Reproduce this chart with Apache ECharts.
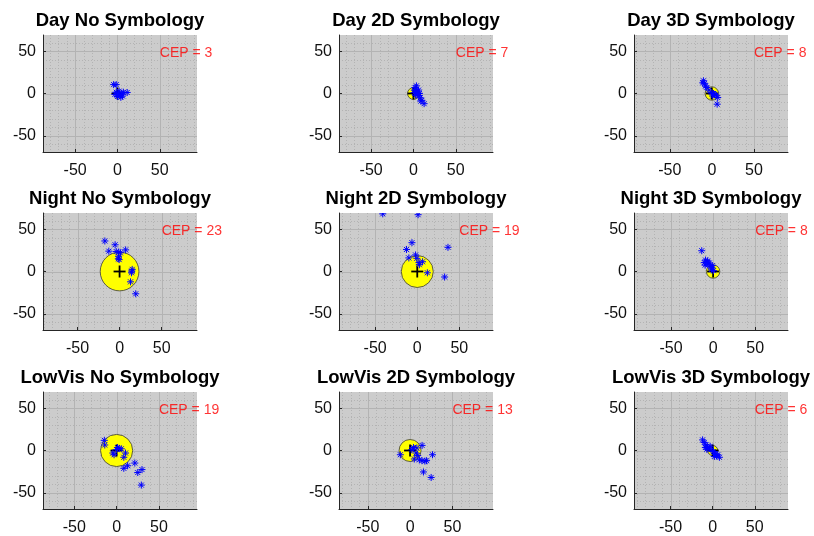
<!DOCTYPE html>
<html>
<head>
<meta charset="utf-8">
<script src="https://cdn.jsdelivr.net/npm/echarts@6/dist/echarts.min.js"></script>
<style>
  html, body { margin: 0; padding: 0; background: #ffffff; }
  #chart { width: 814px; height: 536px; }
</style>
</head>
<body>
<div id="chart"></div>
<script>
// Panel titles, in reading order (rows: Day / Night / LowVis; columns: No / 2D / 3D)
const panelTitles = [
  'Day No Symbology', 'Day 2D Symbology', 'Day 3D Symbology',
  'Night No Symbology', 'Night 2D Symbology', 'Night 3D Symbology',
  'LowVis No Symbology', 'LowVis 2D Symbology', 'LowVis 3D Symbology'
];

// Circular error probable per condition
const cepValues = [3, 7, 8, 23, 19, 8, 19, 13, 6];

// Impact points [x, y] per condition
const dayNoSymbology = [[-4.5,10.5],[-1.5,10.5],[11.5,1.2],[-1.5,1.5],[1,-0.5],[3,-2.5],[5,-0.5],[0,-3.5],[7,1.5],[2,2.8],[4,-4.5],[-3,-1],[6,-3]];
const day2DSymbology = [[2,7],[3.2,4.7],[4,2],[5,0],[6.3,-2.4],[8,-5],[10,-8],[12.6,-12],[6,4],[1,4],[7,0],[2.5,-2],[8.7,-9],[3.5,9],[1,1]];
const day3DSymbology = [[-10,15],[-8.7,12],[-7.5,8.7],[-6,7],[-3.6,4],[-0.8,1.2],[2,0],[5,-2],[7,-4.7],[6.3,-12.6],[3.2,-1.2],[-10.7,12.6],[1,-3]];
const nightNoSymbology = [[-17.5,36],[-5.3,31.5],[-12.8,24],[-4,23.5],[-1,23],[1,22],[7.2,25.5],[-1.2,18],[-1.5,15],[-0.5,14],[15,2.5],[14.2,-1.5],[14.5,0.5],[13,-12.2],[19.2,-26.3]];
const night2DSymbology = [[-41,68],[1,67],[36.5,28.5],[-6.3,34],[-12.8,26],[-10,16],[-2,19.5],[-0.5,15.5],[2,10.5],[6.3,11.5],[2.5,8],[12,-1.5],[32.5,-6.5]];
const night3DSymbology = [[-13.5,24.5],[-9,13.5],[-10.5,10.5],[-6.5,12.5],[-4.5,10],[-9.5,7.5],[-6,8.5],[-2.8,6],[-1,4],[0.5,1],[-2,2],[-1,7],[-7,11]];
const lowVisNoSymbology = [[-14.5,12],[-14,6.5],[-4.5,-3],[-3,-5],[1,3.5],[3,2.5],[5.5,2],[10.5,-3],[8.5,-8],[8.5,-21],[13,-18],[21.5,-14.8],[25,-26],[30,-22.5],[29.2,-40.8],[0,1]];
const lowVis2DSymbology = [[-11.5,-5],[14.2,6],[26.5,-5],[8,3],[7,-3],[5,-10],[11,-11],[14,-12],[17.5,-12.5],[19.5,-12],[15.8,-25.3],[24.9,-31.8],[4,3.5],[9,-6],[2,1]];
const lowVis3DSymbology = [[-12,12.5],[-10,9.5],[-8,6.7],[-6,4],[-8.7,3.6],[-4,2.8],[-2,0.8],[1,-1.2],[3.2,-4],[6,-5],[8,-8],[2,-7],[4.7,-6.3],[-7,1.5],[-3,5]];

const impactSets = [
  dayNoSymbology, day2DSymbology, day3DSymbology,
  nightNoSymbology, night2DSymbology, night3DSymbology,
  lowVisNoSymbology, lowVis2DSymbology, lowVis3DSymbology
];

// Axis limits (equal-aspect axes, so x limits differ slightly per panel)
const xLimits = [
  [-88, 94], [-88, 94], [-92.5, 90.5],
  [-91, 92], [-93, 90], [-94, 89],
  [-87, 95], [-84, 98], [-93.5, 89.5]
];
const yLimits = [-69, 69];
const majorTicks = [-50, 0, 50];
const minorTicks = [-90, -80, -70, -60, -40, -30, -20, -10, 10, 20, 30, 40, 60, 70, 80, 90];
const cepLabelPoint = [50, 48];

// ---- layout & drawing ----
const FONT = '"Liberation Sans", Arial, Helvetica, sans-serif';
const colLeft = [43, 339, 634];
const rowTop = [35, 213, 392];
const plotW = 154, plotH = 117;

const grids = [], xAxes = [], yAxes = [], series = [], titles = [];

function gridLineItems(lims) {
  const items = [];
  const inRange = (v, l) => v > l[0] && v < l[1];
  minorTicks.forEach(v => { if (inRange(v, lims.x)) items.push([v, 0, 0]); });
  minorTicks.forEach(v => { if (inRange(v, lims.y)) items.push([v, 1, 0]); });
  majorTicks.forEach(v => { if (inRange(v, lims.x)) items.push([v, 0, 1]); });
  majorTicks.forEach(v => { if (inRange(v, lims.y)) items.push([v, 1, 1]); });
  return items;
}

for (let i = 0; i < 9; i++) {
  const r = Math.floor(i / 3), c = i % 3;
  const left = colLeft[c], top = rowTop[r];
  const xl = xLimits[i];

  grids.push({
    left: left, top: top, width: plotW, height: plotH,
    show: true, backgroundColor: '#cccccc', borderWidth: 0
  });

  const axisCommon = {
    type: 'value', gridIndex: i, z: 6,
    axisLine: { show: true, onZero: false, lineStyle: { color: '#262626', width: 1 } },
    axisTick: { show: true, inside: true, length: 3, customValues: majorTicks, lineStyle: { color: '#262626', width: 1 } },
    splitLine: { show: false },
    minorTick: { show: false },
    minorSplitLine: { show: false }
  };
  xAxes.push(Object.assign({}, axisCommon, {
    min: xl[0], max: xl[1],
    axisLabel: {
      customValues: majorTicks, color: '#111111', fontSize: 16, fontFamily: FONT, margin: 11,
      formatter: v => (majorTicks.indexOf(v) >= 0 ? String(v) : '')
    }
  }));
  yAxes.push(Object.assign({}, axisCommon, {
    min: yLimits[0], max: yLimits[1],
    axisLabel: {
      customValues: majorTicks, color: '#111111', fontSize: 16, fontFamily: FONT, margin: 7,
      formatter: v => (majorTicks.indexOf(v) >= 0 ? String(v) : '')
    }
  }));

  titles.push({
    text: panelTitles[i],
    left: left + plotW / 2, top: top - 23.5,
    textAlign: 'center', padding: 0,
    textStyle: { fontSize: 18.5, fontWeight: 'bold', color: '#000000', fontFamily: FONT }
  });

  // major (solid) and minor (dotted) grid lines
  series.push({
    type: 'custom', xAxisIndex: i, yAxisIndex: i, z: 1, silent: true, clip: true,
    data: gridLineItems({ x: xl, y: yLimits }),
    renderItem: function (params, api) {
      const v = api.value(0), dir = api.value(1), major = api.value(2);
      const cs = params.coordSys;
      const style = major
        ? { stroke: '#b3b3b3', lineWidth: 1 }
        : { stroke: '#acacac', lineWidth: 0.8, lineDash: [1, 2] };
      let shape;
      if (dir === 0) {
        const px = Math.round(api.coord([v, 0])[0]) + 0.5;
        shape = { x1: px, y1: cs.y, x2: px, y2: cs.y + cs.height };
      } else {
        const py = Math.round(api.coord([0, v])[1]) + 0.5;
        shape = { x1: cs.x, y1: py, x2: cs.x + cs.width, y2: py };
      }
      return { type: 'line', shape: shape, style: style };
    }
  });

  // CEP circle centred on the aim point
  series.push({
    type: 'custom', xAxisIndex: i, yAxisIndex: i, z: 2, silent: true, clip: true,
    data: [[0, 0, cepValues[i]]],
    renderItem: function (params, api) {
      const c0 = api.coord([api.value(0), api.value(1)]);
      const rx = api.size([api.value(2), 0])[0];
      return {
        type: 'circle',
        shape: { cx: c0[0], cy: c0[1], r: rx },
        style: { fill: '#ffff00', stroke: '#3a3a3a', lineWidth: 0.8 }
      };
    }
  });

  // aim point cross
  series.push({
    type: 'custom', xAxisIndex: i, yAxisIndex: i, z: 3, silent: true, clip: true,
    data: [[0, 0]],
    renderItem: function (params, api) {
      const p = api.coord([api.value(0), api.value(1)]);
      const h = 6;
      const st = { stroke: '#000000', lineWidth: 1.8 };
      return {
        type: 'group',
        children: [
          { type: 'line', shape: { x1: p[0] - h, y1: p[1], x2: p[0] + h, y2: p[1] }, style: st },
          { type: 'line', shape: { x1: p[0], y1: p[1] - h, x2: p[0], y2: p[1] + h }, style: st }
        ]
      };
    }
  });

  // impact points drawn as asterisks
  series.push({
    type: 'custom', xAxisIndex: i, yAxisIndex: i, z: 4, silent: true, clip: true,
    data: impactSets[i],
    renderItem: function (params, api) {
      const p = api.coord([api.value(0), api.value(1)]);
      const a = 3.5, d = 2.5;
      const st = { stroke: '#0000ff', lineWidth: 1 };
      return {
        type: 'group',
        children: [
          { type: 'line', shape: { x1: p[0] - a, y1: p[1], x2: p[0] + a, y2: p[1] }, style: st },
          { type: 'line', shape: { x1: p[0], y1: p[1] - a, x2: p[0], y2: p[1] + a }, style: st },
          { type: 'line', shape: { x1: p[0] - d, y1: p[1] - d, x2: p[0] + d, y2: p[1] + d }, style: st },
          { type: 'line', shape: { x1: p[0] - d, y1: p[1] + d, x2: p[0] + d, y2: p[1] - d }, style: st }
        ]
      };
    }
  });

  // CEP annotation
  series.push({
    type: 'scatter', xAxisIndex: i, yAxisIndex: i, z: 7, silent: true, clip: false,
    symbolSize: 0,
    data: [[cepLabelPoint[0], cepLabelPoint[1], cepValues[i]]],
    label: {
      show: true, position: [0, 0], align: 'left', verticalAlign: 'middle',
      color: '#ff0000', fontSize: 14, fontFamily: FONT,
      formatter: p => 'CEP = ' + p.value[2]
    }
  });
}

const chart = echarts.init(document.getElementById('chart'), null, { renderer: 'canvas' });
chart.setOption({
  animation: false,
  backgroundColor: '#ffffff',
  title: titles,
  grid: grids,
  xAxis: xAxes,
  yAxis: yAxes,
  series: series
});
</script>
</body>
</html>
